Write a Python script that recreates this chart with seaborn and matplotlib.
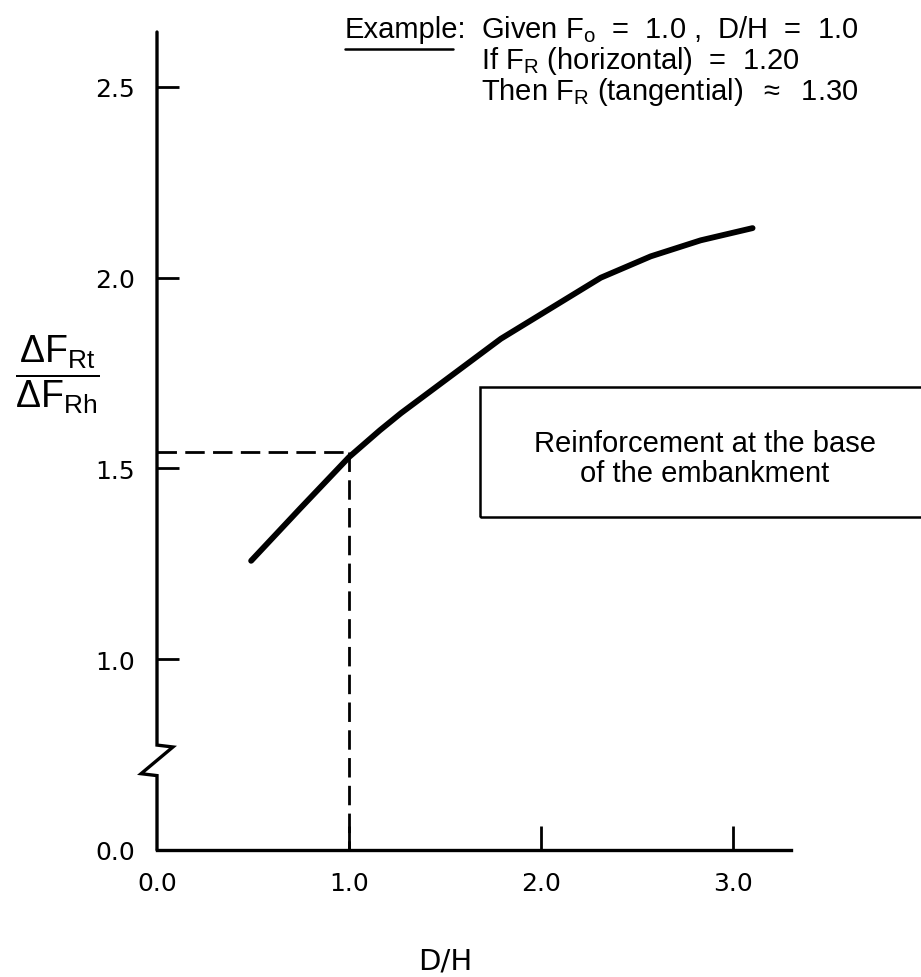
import matplotlib
matplotlib.use("Agg")
import matplotlib.pyplot as plt
import seaborn as sns
import pandas as pd
from matplotlib.patches import Rectangle
from matplotlib.lines import Line2D

# Data
d_over_h = [0.49, 0.745, 1.0, 1.16, 1.27, 1.79, 2.31, 2.57, 2.83, 3.10]
ratio = [1.258, 1.395, 1.53, 1.60, 1.645, 1.84, 2.00, 2.056, 2.098, 2.13]

x_ticks = [0.0, 1.0, 2.0, 3.0]
x_tick_labels = ["0.0", "1.0", "2.0", "3.0"]
# the 0.0 tick sits where 0.5 would be (broken axis)
y_ticks = [0.5, 1.0, 1.5, 2.0, 2.5]
y_tick_labels = ["0.0", "1.0", "1.5", "2.0", "2.5"]

example_x = 1.0
example_y = 1.542

df = pd.DataFrame({"D/H": d_over_h, "ratio": ratio})

sns.set_theme(style="white")
plt.rcParams["font.family"] = ["DejaVu Sans"]
plt.rcParams["text.color"] = "black"
plt.rcParams["mathtext.fontset"] = "custom"
plt.rcParams["mathtext.rm"] = "Liberation Sans"
plt.rcParams["mathtext.it"] = "Liberation Sans"

fig = plt.figure(figsize=(9.21, 9.78), dpi=100)
ax = fig.add_axes([157 / 921, 1 - 851 / 978, 634 / 921, 818 / 978])

sns.lineplot(data=df, x="D/H", y="ratio", ax=ax, color="black", linewidth=4.2,
             solid_capstyle="round", solid_joinstyle="round")

x0, x1 = 0.0, 3.3
y0, y1 = 0.5, 2.644
ax.set_xlim(x0, x1)
ax.set_ylim(y0, y1)

# Dashed example lines
ax.plot([x0, example_x], [example_y, example_y], color="black", lw=2,
        dashes=(7, 3))
ax.plot([example_x, example_x], [example_y, y0], color="black", lw=2,
        dashes=(7, 3))

# Axes: bottom spine, custom left spine with break
for s in ["top", "right", "left"]:
    ax.spines[s].set_visible(False)
ax.spines["bottom"].set_linewidth(2.4)
ax.spines["bottom"].set_color("black")
ax.plot([x0, x0, x0 + 0.083, x0 - 0.083, x0, x0],
        [y1, 0.775, 0.77, 0.70, 0.695, y0],
        color="black", lw=2.4, clip_on=False, solid_joinstyle="miter")

ax.set_xticks(x_ticks)
ax.set_xticklabels(x_tick_labels)
ax.set_yticks(y_ticks)
ax.set_yticklabels(y_tick_labels)
ax.tick_params(axis="x", direction="in", length=17, width=2, color="black",
               pad=15, labelsize=18, bottom=True, labelcolor="black")
ax.tick_params(axis="y", direction="in", length=16, width=2, color="black",
               pad=16, labelsize=18, left=True, labelcolor="black")
ax.xaxis.get_major_ticks()[0].tick1line.set_visible(False)
ax.yaxis.get_major_ticks()[0].tick1line.set_visible(False)

ax.set_xlabel("")
ax.set_ylabel("")
fig.text(445 / 921, 1 - 962 / 978, "D/H", fontsize=21, color="black",
         ha="center", va="center")

# y label as fraction
fig.text(57 / 921, 1 - 375 / 978,
         r"$\dfrac{\Delta \mathrm{F}_{\mathrm{Rt}}}{\Delta \mathrm{F}_{\mathrm{Rh}}}$",
         fontsize=27, ha="center", va="center")

# Box with note
fig.add_artist(Rectangle((480 / 921, 1 - 518 / 978), 0.6, 130 / 978,
                         transform=fig.transFigure, fill=False,
                         edgecolor="black", lw=1.8, clip_on=False))
fig.text(705 / 921, 1 - 459 / 978, "Reinforcement at the base\nof the embankment",
         family="Liberation Sans", fontsize=21, ha="center", va="center",
         linespacing=1.1)

# Example text
tf = dict(family="Liberation Sans", fontsize=21, ha="left", va="center")
fig.text(345 / 921, 1 - 30 / 978, "Example:", **tf)
fig.add_artist(Line2D([345 / 921, 453 / 921], [1 - 50 / 978, 1 - 50 / 978],
                      transform=fig.transFigure, color="black", lw=1.8))
fig.text(481 / 921, 1 - 30 / 978,
         r"Given F$_\mathrm{o}$  =  1.0 ,  D/H  =  1.0", **tf)
fig.text(481 / 921, 1 - 61 / 978,
         r"If F$_\mathrm{R}$ (horizontal)  =  1.20", **tf)
fig.text(481 / 921, 1 - 92 / 978,
         r"Then F$_\mathrm{R}$ (tangential)  $\approx$  1.30", **tf)

fig.savefig("out.png", dpi=100)
